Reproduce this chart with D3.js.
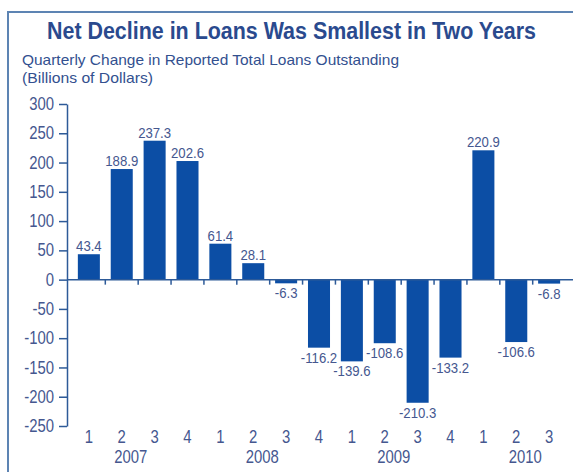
<!DOCTYPE html>
<html>
<head>
<meta charset="utf-8">
<script src="https://cdn.jsdelivr.net/npm/d3@7"></script>
<style>
  body { margin: 0; background: #fff; }
  svg { display: block; }
  text { font-family: "Liberation Sans", Arial, sans-serif; }
</style>
</head>
<body>
<div id="chart"></div>
<script>
const quarters = ['1', '2', '3', '4', '1', '2', '3', '4', '1', '2', '3', '4', '1', '2', '3'];
const years = ['2007', '2007', '2007', '2007', '2008', '2008', '2008', '2008',
  '2009', '2009', '2009', '2009', '2010', '2010', '2010'];
const values = [43.4, 188.9, 237.3, 202.6, 61.4, 28.1, -6.3, -116.2, -139.6, -108.6, -210.3, -133.2, 220.9, -106.6, -6.8];
const yTicks = [300, 250, 200, 150, 100, 50, 0, -50, -100, -150, -200, -250];

const width = 573;
const height = 472;
const margin = { top: 104, bottom: 46, left: 67, right: 2 };
const blue = '#0c4ea5';
const axisColor = '#2d5a98';
const textColor = '#45578f';
const squeeze = 0.85; // fake a narrow face, none is installed

const svg = d3
  .select('#chart')
  .append('svg')
  .attr('width', width)
  .attr('height', height);

// frame
svg
  .append('rect')
  .attr('x', 8)
  .attr('y', 12)
  .attr('width', 700)
  .attr('height', 600)
  .attr('fill', 'none')
  .attr('stroke', '#5d84b3')
  .attr('stroke-width', 2);

svg
  .append('text')
  .attr('x', 47)
  .attr('y', 39)
  .attr('font-size', '23px')
  .attr('font-weight', 'bold')
  .attr('fill', '#2a4a8e')
  .attr('textLength', 489)
  .attr('lengthAdjust', 'spacingAndGlyphs')
  .text('Net Decline in Loans Was Smallest in Two Years');

svg
  .append('text')
  .attr('x', 22)
  .attr('y', 65)
  .attr('font-size', '15px')
  .attr('fill', '#33508f')
  .attr('textLength', 377)
  .attr('lengthAdjust', 'spacingAndGlyphs')
  .text('Quarterly Change in Reported Total Loans Outstanding');

svg
  .append('text')
  .attr('x', 22)
  .attr('y', 83)
  .attr('font-size', '15px')
  .attr('fill', '#33508f')
  .attr('textLength', 131)
  .attr('lengthAdjust', 'spacingAndGlyphs')
  .text('(Billions of Dollars)');

const x = d3
  .scaleBand()
  .domain(d3.range(values.length))
  .range([margin.left, width - margin.right])
  .padding(0.33);

const y = d3
  .scaleLinear()
  .domain([-250, 300])
  .range([height - margin.bottom, margin.top]);

// bars
svg
  .append('g')
  .attr('fill', blue)
  .selectAll('rect')
  .data(values)
  .join('rect')
  .attr('x', (d, i) => x(i))
  .attr('y', (d) => y(Math.max(0, d)))
  .attr('height', (d) => Math.abs(y(d) - y(0)))
  .attr('width', x.bandwidth());

// value labels
svg
  .append('g')
  .attr('font-size', '15.5px')
  .attr('fill', textColor)
  .attr('text-anchor', 'middle')
  .selectAll('text')
  .data(values)
  .join('text')
  .attr('transform', (d, i) => {
    const cx = x(i) + x.bandwidth() / 2;
    const cy = d >= 0 ? y(d) - 3 : y(d) + 15;
    return `translate(${cx},${cy}) scale(${squeeze},1)`;
  })
  .text((d) => d.toFixed(1));

// y axis
function yAxis(g) {
  g.attr('transform', `translate(${margin.left}, 0)`)
    .call(
      d3.axisLeft(y)
        .tickValues(yTicks)
        .tickFormat((d) => String(d))
        .tickSize(8)
        .tickPadding(5)
        .tickSizeOuter(0)
    )
    .attr('font-size', '17.5px');
  g.select('.domain').attr('stroke', axisColor).attr('stroke-width', 1.5);
  g.selectAll('.tick line').attr('stroke', axisColor).attr('stroke-width', 1.5);
  g.selectAll('.tick text')
    .attr('fill', textColor)
    .attr('transform', `translate(-13,0) scale(${squeeze},1)`)
    .attr('x', 0);
}
svg.append('g').call(yAxis);

// zero line with ticks between bars
const step = x.step();
svg
  .append('line')
  .attr('x1', margin.left)
  .attr('x2', width)
  .attr('y1', y(0))
  .attr('y2', y(0))
  .attr('stroke', axisColor)
  .attr('stroke-width', 1.5);

svg
  .append('g')
  .selectAll('line')
  .data(d3.range(1, values.length))
  .join('line')
  .attr('x1', (i) => x(i) - (step - x.bandwidth()) / 2)
  .attr('x2', (i) => x(i) - (step - x.bandwidth()) / 2)
  .attr('y1', y(0))
  .attr('y2', y(0) + 5)
  .attr('stroke', axisColor)
  .attr('stroke-width', 1.5);

// quarter labels
svg
  .append('g')
  .attr('font-size', '17.5px')
  .attr('fill', textColor)
  .attr('text-anchor', 'middle')
  .selectAll('text')
  .data(quarters)
  .join('text')
  .attr('transform', (d, i) => `translate(${x(i) + x.bandwidth() / 2},${height - 29}) scale(${squeeze},1)`)
  .text((d) => d);

// year labels, placed a little right of the second quarter
const yearNames = Array.from(new Set(years));
svg
  .append('g')
  .attr('font-size', '17.5px')
  .attr('fill', textColor)
  .attr('text-anchor', 'middle')
  .selectAll('text')
  .data(yearNames)
  .join('text')
  .attr('transform', (d) => {
    const i = years.indexOf(d) + 1;
    return `translate(${x(i) + x.bandwidth() / 2 + 9},${height - 9}) scale(${squeeze},1)`;
  })
  .text((d) => d);
</script>
</body>
</html>
